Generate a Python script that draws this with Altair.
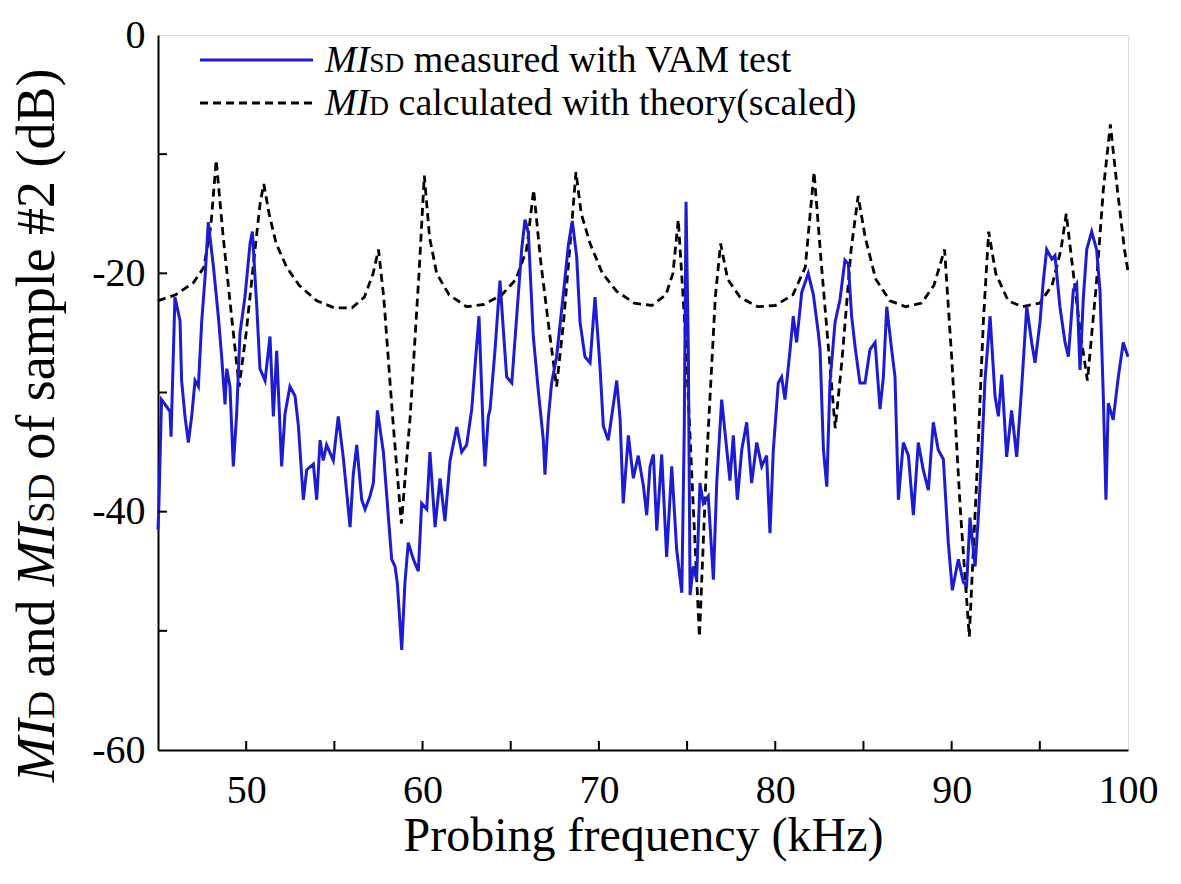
import altair as alt
import pandas as pd

# ---- data ----
blue_x = [45.0, 45.05, 45.2, 45.4, 45.68, 45.74, 45.96, 46.25, 46.34, 46.53, 46.72, 46.91, 47.1, 47.29, 47.48,
          47.67, 47.85, 48.14, 48.42, 48.61, 48.8, 48.9, 49.08, 49.27, 49.46, 49.65, 49.93, 50.22, 50.35, 50.6,
          50.78, 51.07, 51.35, 51.54, 51.73, 52.01, 52.2, 52.48, 52.77, 52.96, 53.24, 53.43, 53.81, 54.0, 54.19,
          54.37, 54.56, 54.94, 55.22, 55.51, 55.89, 56.07, 56.27, 56.55, 56.74, 57.02, 57.21, 57.44, 57.78, 58.06,
          58.25, 58.44, 58.57, 58.82, 59.0, 59.19, 59.48, 59.76, 59.95, 60.24, 60.42, 60.71, 60.99, 61.27, 61.56,
          61.94, 62.22, 62.5, 62.79, 62.97, 63.2, 63.45, 63.54, 63.73, 63.83, 64.11, 64.39, 64.58, 64.77, 65.06,
          65.34, 65.62, 65.81, 66.0, 66.28, 66.56, 66.85, 66.94, 67.13, 67.32, 67.6, 67.98, 68.27, 68.49, 68.74,
          68.93, 69.21, 69.5, 69.78, 70.06, 70.25, 70.53, 70.82, 71.01, 71.2, 71.38, 71.67, 71.95, 72.23, 72.52,
          72.71, 72.9, 73.09, 73.28, 73.56, 73.84, 74.13, 74.41, 74.7, 74.84, 74.94, 75.07, 75.17, 75.35, 75.54,
          75.73, 75.92, 76.2, 76.49, 76.68, 76.96, 77.25, 77.43, 77.62, 77.85, 78.1, 78.38, 78.66, 78.95, 79.23,
          79.51, 79.7, 79.89, 80.17, 80.36, 80.55, 80.84, 81.02, 81.21, 81.5, 81.87, 82.16, 82.44, 82.54, 82.73,
          82.92, 83.1, 83.39, 83.67, 83.95, 84.14, 84.33, 84.52, 84.8, 85.09, 85.37, 85.66, 85.94, 86.13, 86.32,
          86.6, 86.79, 86.98, 87.26, 87.55, 87.83, 88.11, 88.39, 88.68, 88.96, 89.24, 89.53, 89.81, 90.04, 90.38,
          90.66, 90.85, 91.04, 91.33, 91.51, 91.7, 91.89, 92.18, 92.46, 92.65, 92.84, 93.12, 93.4, 93.69, 93.97,
          94.26, 94.54, 94.73, 95.01, 95.2, 95.39, 95.68, 95.86, 96.14, 96.43, 96.62, 96.9, 97.09, 97.28, 97.47,
          97.66, 97.94, 98.22, 98.41, 98.6, 98.75, 98.88, 99.16, 99.45, 99.73, 100.0]
blue_y = [-41.5, -39.5, -30.6, -31.0, -31.6, -33.7, -22.0, -24.0, -29.0, -32.0, -34.2, -32.0, -29.0, -29.5, -24.0,
          -20.3, -15.7, -19.4, -23.6, -27.0, -31.0, -28.0, -29.5, -36.2, -31.8, -25.0, -22.0, -17.5, -16.5, -22.8,
          -28.0, -29.0, -25.3, -32.0, -26.5, -36.2, -31.8, -29.5, -30.3, -32.8, -39.0, -36.5, -36.0, -39.0, -34.0,
          -35.7, -34.4, -35.7, -32.0, -35.5, -41.3, -36.9, -34.4, -39.0, -39.8, -38.7, -37.6, -31.5, -35.0, -40.4,
          -44.0, -44.6, -46.0, -51.6, -46.0, -42.6, -44.0, -45.0, -39.3, -39.8, -35.0, -41.3, -37.2, -40.8, -35.7,
          -32.9, -35.0, -34.4, -31.4, -27.9, -23.6, -33.7, -36.2, -32.0, -31.4, -26.4, -20.6, -24.7, -28.7, -29.2,
          -23.6, -18.0, -15.5, -16.6, -25.3, -29.8, -34.0, -36.9, -32.2, -29.2, -27.0, -21.8, -17.6, -15.6, -18.6,
          -24.1, -27.0, -27.5, -22.0, -27.8, -32.8, -34.0, -31.0, -29.0, -32.2, -39.3, -33.6, -37.2, -35.3, -37.8,
          -40.3, -36.2, -35.2, -41.6, -35.2, -43.8, -36.2, -43.2, -46.8, -33.0, -14.0, -26.4, -47.0, -44.6, -45.7,
          -37.6, -39.3, -38.7, -45.7, -37.6, -30.6, -34.8, -37.4, -33.6, -39.0, -34.8, -32.5, -37.6, -34.2, -36.2,
          -35.3, -41.8, -34.8, -29.2, -28.7, -30.6, -26.4, -23.6, -25.8, -21.6, -20.0, -21.8, -25.0, -26.4, -34.8,
          -37.9, -29.2, -24.1, -22.2, -18.9, -19.2, -23.6, -26.1, -29.2, -29.2, -26.4, -25.8, -31.4, -28.7, -22.8,
          -26.4, -28.7, -39.0, -34.2, -35.3, -40.3, -34.2, -36.5, -38.2, -32.5, -34.8, -35.6, -42.6, -46.6, -44.0,
          -45.9, -46.2, -40.5, -44.6, -40.5, -35.4, -29.0, -23.6, -30.3, -32.0, -28.5, -35.4, -31.5, -35.4, -29.6,
          -22.8, -25.8, -27.5, -24.1, -20.6, -18.0, -18.8, -18.5, -22.8, -25.8, -27.0, -21.4, -20.9, -28.1, -22.0,
          -18.0, -16.5, -18.0, -21.4, -30.3, -39.0, -30.9, -32.3, -28.7, -25.8, -27.0]

theory_x = [45.0, 46.0, 47.0, 47.6, 48.0, 48.3, 48.7, 49.2, 49.6, 50.0, 50.5, 50.8, 51.0, 51.3, 51.7, 52.3, 53.0,
            54.0, 55.0, 56.0, 56.7, 57.2, 57.5, 57.8, 58.3, 58.8, 59.3, 59.8, 60.1, 60.4, 60.8, 61.5, 62.5, 63.5,
            64.5, 65.3, 65.9, 66.3, 66.7, 67.2, 67.6, 68.0, 68.4, 68.7, 69.0, 69.5, 70.2, 71.0, 72.0, 73.0, 73.8,
            74.2, 74.5, 74.9, 75.3, 75.7, 76.1, 76.6, 76.9, 77.3, 78.0, 79.0, 80.0, 81.0, 81.7, 82.2, 82.6, 83.0,
            83.4, 83.8, 84.3, 84.7, 85.1, 85.7, 86.5, 87.4, 88.3, 89.0, 89.6, 90.0, 90.5, 91.0, 91.4, 91.8, 92.1,
            92.5, 93.2, 94.0, 95.0, 95.7, 96.2, 96.5, 96.9, 97.3, 97.7, 98.2, 98.6, 99.0, 99.4, 99.8, 100.0]
theory_y = [-22.3, -21.8, -20.8, -19.5, -16.0, -10.5, -17.0, -24.0, -29.5, -25.0, -18.0, -14.0, -12.5, -15.0, -17.5,
            -19.5, -21.0, -22.3, -22.9, -22.9, -22.0, -20.0, -18.0, -22.0, -32.0, -41.0, -32.0, -20.0, -11.8, -17.0,
            -20.0, -21.8, -22.8, -22.6, -21.8, -20.5, -18.0, -13.0, -19.0, -25.0, -29.5, -24.0, -17.0, -11.5, -15.0,
            -17.5, -20.0, -21.5, -22.5, -22.7, -21.8, -20.0, -15.5, -25.0, -38.0, -50.5, -36.0, -22.0, -17.5, -20.5,
            -22.0, -22.8, -22.7, -21.8, -19.5, -11.5, -19.0, -26.0, -33.0, -27.0, -18.0, -13.5, -17.0, -20.5, -22.3,
            -22.8, -22.5, -21.0, -18.0, -27.0, -40.0, -50.5, -38.0, -24.0, -16.5, -20.0, -22.3, -22.8, -22.5, -21.0,
            -18.0, -15.0, -20.0, -25.0, -29.0, -21.0, -13.0, -7.5, -13.0, -18.0, -19.8]

x_ticks = [50, 55, 60, 65, 70, 75, 80, 85, 90, 95]
x_labels = [50, 60, 70, 80, 90, 100]
y_ticks = [-50, -40, -30, -20, -10]
y_labels = [-60, -40, -20, 0]

# ---- chart ----
W, H = 970, 715
SERIF = "Liberation Serif"
BLUE = "#1c1cd2"

xscale = alt.Scale(domain=[45, 100], nice=False, zero=False)
yscale = alt.Scale(domain=[-60, 0], nice=False, zero=False)

blue_df = pd.DataFrame({"f": blue_x, "v": blue_y})
theo_df = pd.DataFrame({"f": theory_x, "v": theory_y})
xt_df = pd.DataFrame({"f": x_ticks})
yt_df = pd.DataFrame({"v": y_ticks})

x_axis = alt.Axis(values=x_labels, ticks=False, grid=False, title="Probing frequency (kHz)",
                  labelFont=SERIF, labelFontSize=40, labelPadding=20, labelColor="black",
                  titleFont=SERIF, titleFontSize=48, titleFontWeight="normal", titlePadding=2,
                  titleColor="black", domainColor="black", domainWidth=2, labelFlush=False)
y_axis = alt.Axis(values=y_labels, ticks=False, grid=False, title=None,
                  labelFont=SERIF, labelFontSize=40, labelPadding=13, labelColor="black",
                  labelExpr="replace(datum.label, '\u2212', '-')",
                  domainColor="black", domainWidth=2, labelFlush=False)

theory = alt.Chart(theo_df).mark_line(color="black", strokeWidth=2.8, strokeDash=[8, 5]).encode(
    x=alt.X("f:Q", scale=xscale, axis=x_axis),
    y=alt.Y("v:Q", scale=yscale, axis=y_axis),
)
blue = alt.Chart(blue_df).mark_line(color=BLUE, strokeWidth=3).encode(
    x=alt.X("f:Q", scale=xscale),
    y=alt.Y("v:Q", scale=yscale),
)

xticks = alt.Chart(xt_df).mark_rule(color="black", strokeWidth=2).encode(
    x=alt.X("f:Q", scale=xscale), y=alt.value(H - 9), y2=alt.value(H))
yticks = alt.Chart(yt_df).mark_rule(color="black", strokeWidth=2).encode(
    y=alt.Y("v:Q", scale=yscale), x=alt.value(0), x2=alt.value(9))

one = pd.DataFrame({"k": [0]})


def txt(s, x, y, size, italic=False, angle=0, baseline="alphabetic"):
    kw = dict(font=SERIF, fontSize=size, color="black", align="left", baseline=baseline)
    if italic:
        kw["fontStyle"] = "italic"
    if angle:
        kw["angle"] = angle
    return alt.Chart(one).mark_text(**kw).encode(x=alt.value(x), y=alt.value(y), text=alt.value(s))


# legend (inside the plot, top-left)
LF = 38
LS = LF * 0.72
lx = 167
r1, r2 = 37, 80
leg_blue = alt.Chart(one).mark_rule(color=BLUE, strokeWidth=3).encode(
    x=alt.value(42), x2=alt.value(155), y=alt.value(25))
leg_dash = alt.Chart(one).mark_rule(color="black", strokeWidth=2.8, strokeDash=[8, 5]).encode(
    x=alt.value(42), x2=alt.value(155), y=alt.value(68))
mi_w = 1.166 * LF
legend_parts = [
    txt("MI", lx, r1, LF, italic=True),
    txt("SD", lx + mi_w, r1, LS),
    txt("measured with VAM test", lx + mi_w + 1.278 * LS + 0.25 * LF, r1, LF),
    txt("MI", lx, r2, LF, italic=True),
    txt("D", lx + mi_w, r2, LS),
    txt("calculated with theory(scaled)", lx + mi_w + 0.722 * LS + 0.25 * LF, r2, LF),
]

# rotated y title, read bottom to top
TF = 54
TS = TF * 0.72
tx = -104
y0 = 747
s1 = y0
s2 = s1 - 1.166 * TF
s3 = s2 - 0.722 * TS
s4 = s3 - 1.944 * TF
s5 = s4 - 1.166 * TF
s6 = s5 - 1.278 * TS
ytitle_parts = [
    txt("MI", tx, s1, TF, italic=True, angle=270),
    txt("D", tx, s2, TS, angle=270),
    txt("and", tx, s3 - 0.25 * TF, TF, angle=270),
    txt("MI", tx, s4, TF, italic=True, angle=270),
    txt("SD", tx, s5, TS, angle=270),
    txt("of sample #2 (dB)", tx, s6 - 0.25 * TF, TF, angle=270),
]

chart = alt.layer(theory, blue, xticks, yticks, leg_blue, leg_dash, *legend_parts, *ytitle_parts).properties(
    width=W, height=H,
    padding={"left": 158, "top": 35, "right": 53, "bottom": 134},
    autosize=alt.AutoSizeParams(type="none"),
).configure_view(stroke="black", strokeWidth=2).configure(background="white")

chart.save("out.html", embed_options={"renderer": "svg", "actions": False})
